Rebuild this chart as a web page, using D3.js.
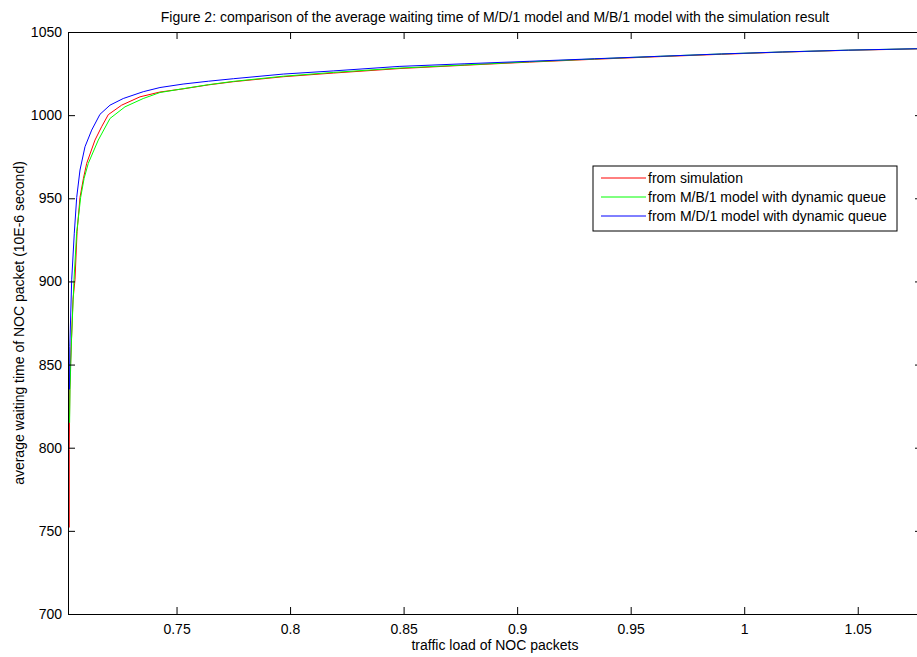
<!DOCTYPE html>
<html>
<head>
<meta charset="utf-8">
<script src="https://cdn.jsdelivr.net/npm/d3@7"></script>
<style>
  body { margin: 0; background: #fff; }
  svg { display: block; font-family: "Liberation Sans", Arial, sans-serif; }
  .axis path, .axis line { stroke: #000; }
  .axis text { fill: #000; font-size: 14px; font-family: "Liberation Sans", Arial, sans-serif; }
</style>
</head>
<body>
<svg width="917" height="657"></svg>
<script>
// traffic load vs waiting time
const loadSim = [0.70277, 0.70277, 0.70284, 0.70300, 0.70330, 0.70440, 0.70528, 0.70620, 0.70748, 0.70900, 0.71043, 0.71408, 0.71700, 0.71994, 0.72583, 0.73389, 0.7427, 0.7529, 0.7640, 0.7750, 0.7970, 0.8190, 0.8480, 0.8770, 0.9056, 0.9340, 0.9630, 0.9900, 1.0170, 1.0460, 1.0780]
const waitSim = [752, 799, 815, 835, 849, 889, 901, 930, 950.5, 962, 971, 985, 993, 1000.3, 1006, 1011, 1013.9, 1015.8, 1018.2, 1020.1, 1023.1, 1025.3, 1028, 1030, 1031.9, 1033.6, 1035.2, 1036.6, 1037.9, 1039, 1039.9]

const loadMB1 = [0.70290, 0.70308, 0.70374, 0.70484, 0.70600, 0.70777, 0.70930, 0.71113, 0.71554, 0.72069, 0.72729, 0.73534, 0.7427, 0.7529, 0.7640, 0.7750, 0.7970, 0.8190, 0.8480, 0.8770, 0.9056, 0.9340, 0.9630, 0.9900, 1.0170, 1.0460, 1.0780]
const waitMB1 = [815, 835, 865, 901, 929, 950.5, 962, 971, 985, 998, 1005, 1010, 1013.6, 1015.9, 1018.3, 1020.3, 1023.4, 1025.7, 1028.3, 1030.2, 1032.1, 1033.8, 1035.4, 1036.8, 1038, 1039.1, 1040]

const loadMD1 = [0.70286, 0.70300, 0.70383, 0.70497, 0.70603, 0.70748, 0.70968, 0.71263, 0.71628, 0.72069, 0.72654, 0.73534, 0.7427, 0.7529, 0.7640, 0.7750, 0.7970, 0.8190, 0.8480, 0.8770, 0.9056, 0.9340, 0.9630, 0.9900, 1.0170, 1.0460, 1.0780]
const waitMD1 = [835, 861, 901, 929, 950.5, 967, 981, 991, 1000.5, 1006, 1010, 1014.1, 1016.6, 1018.7, 1020.4, 1021.9, 1024.7, 1026.6, 1029.3, 1030.9, 1032.4, 1033.9, 1035.4, 1036.8, 1038, 1039.1, 1040]

const seriesNames = ["from simulation", "from M/B/1 model with dynamic queue", "from M/D/1 model with dynamic queue"]
const seriesColors = ["#ff0000", "#00ff00", "#0000ff"]

const xTicks = [0.75, 0.8, 0.85, 0.9, 0.95, 1, 1.05]
const xTickLabels = ["0.75", "0.8", "0.85", "0.9", "0.95", "1", "1.05"]
const yTicks = [700, 750, 800, 850, 900, 950, 1000, 1050]

const svg = d3.select("svg"),
margin = {top: 32, right: -5, bottom: 43, left: 68},
width = +svg.attr("width") - margin.left - margin.right,
height = +svg.attr("height") - margin.top - margin.bottom

const x = d3.scaleLinear()
.domain([0.7022, 1.0783])
.range([0, width])

const y = d3.scaleLinear()
.domain([700, 1050])
.range([height, 0])

const g = svg
.append("g")
.attr("transform", `translate(${margin.left}, ${margin.top})`)

g.append("clipPath")
.attr("id", "clip")
.append("rect")
.attr("width", width)
.attr("height", height)

const series = [
  {load: loadSim, wait: waitSim},
  {load: loadMB1, wait: waitMB1},
  {load: loadMD1, wait: waitMD1}
]

const line = d3.line()
.x(d => x(d[0]))
.y(d => y(d[1]))

g.append("g")
.attr("clip-path", "url(#clip)")
.selectAll("path")
.data(series)
.enter()
.append("path")
.attr("fill", "none")
.attr("stroke", (d, i) => seriesColors[i])
.attr("stroke-width", 1)
.attr("d", d => line(d.load.map((v, i) => [v, d.wait[i]])))

// axes, ticks pointing inward like matlab
g.append("g")
.attr("class", "axis")
.attr("transform", `translate(0, ${height})`)
.call(d3.axisBottom(x).tickValues(xTicks).tickFormat((d, i) => xTickLabels[i]).tickSizeInner(-7).tickSizeOuter(0).tickPadding(10))

g.append("g")
.attr("class", "axis")
.call(d3.axisTop(x).tickValues(xTicks).tickFormat("").tickSizeInner(-7).tickSizeOuter(0))

g.append("g")
.attr("class", "axis")
.call(d3.axisLeft(y).tickValues(yTicks).tickFormat(d3.format("d")).tickSizeInner(-7).tickSizeOuter(0).tickPadding(6))

g.append("g")
.attr("class", "axis")
.attr("transform", `translate(${width}, 0)`)
.call(d3.axisRight(y).tickValues(yTicks).tickFormat("").tickSizeInner(-7).tickSizeOuter(0))

svg.append("text")
.attr("x", 495)
.attr("y", 22)
.attr("text-anchor", "middle")
.attr("font-size", 14)
.text("Figure 2: comparison of the average waiting time of M/D/1 model and M/B/1 model with the simulation result")

svg.append("text")
.attr("x", 495)
.attr("y", 650)
.attr("text-anchor", "middle")
.attr("font-size", 14)
.text("traffic load of NOC packets")

svg.append("text")
.attr("transform", "translate(24, 323) rotate(-90)")
.attr("text-anchor", "middle")
.attr("font-size", 14)
.text("average waiting time of NOC packet (10E-6 second)")

// legend
const legend = svg.append("g")
.attr("transform", "translate(593, 166)")

legend.append("rect")
.attr("width", 304)
.attr("height", 65)
.attr("fill", "#fff")
.attr("stroke", "#000")

const rows = legend.selectAll(".row")
.data(seriesNames)
.enter()
.append("g")
.attr("class", "row")
.attr("transform", (d, i) => `translate(0, ${12 + i * 19})`)

rows.append("line")
.attr("x1", 8)
.attr("x2", 53)
.attr("stroke", (d, i) => seriesColors[i])

rows.append("text")
.attr("x", 55)
.attr("dy", "0.35em")
.attr("font-size", 14)
.text(d => d)
</script>
</body>
</html>
